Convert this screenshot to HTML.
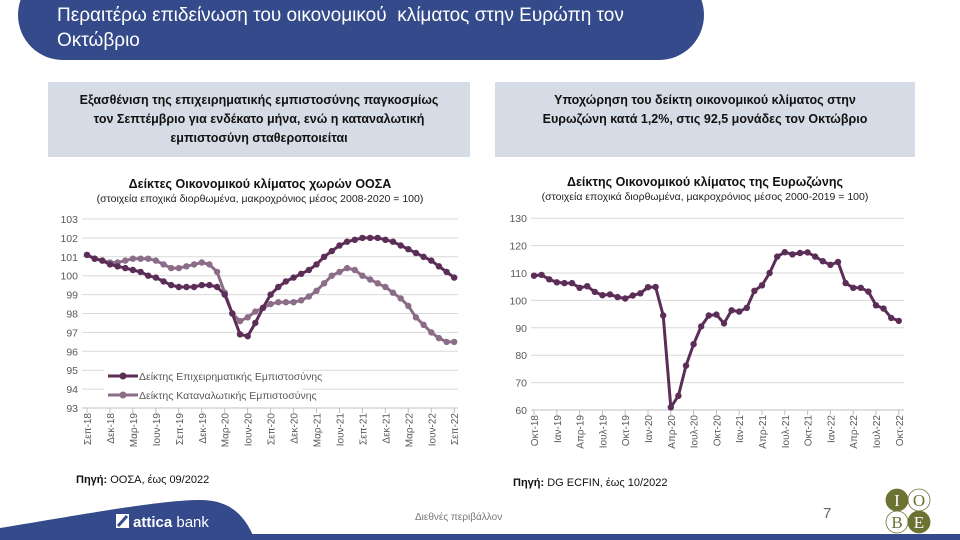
<!DOCTYPE html>
<html><head><meta charset="utf-8"><style>
body{margin:0;width:960px;height:540px;overflow:hidden;background:#fff;font-family:"Liberation Sans","DejaVu Sans",sans-serif;position:relative}
.hdr{position:absolute;left:18px;top:-30px;width:686px;height:90px;background:#344a8a;border-radius:45px;}
.hdrt{position:absolute;left:57px;top:3px;color:#fff;font-size:19px;line-height:25px;width:640px}
.box{position:absolute;top:82px;height:75px;background:#d6dce5;font-weight:bold;font-size:12.5px;text-align:center;line-height:19px;color:#111;box-sizing:border-box;padding-top:9px}
.ct{position:absolute;font-weight:bold;font-size:12.5px;color:#111;text-align:center}
.cs{position:absolute;font-size:10.5px;color:#222;text-align:center}
.src{position:absolute;font-size:11px;color:#111}
</style></head><body>
<div class="hdr"></div>
<div class="hdrt">Περαιτέρω επιδείνωση του οικονομικού&nbsp; κλίματος στην Ευρώπη τον Οκτώβριο</div>
<div class="box" style="left:48px;width:422px">Εξασθένιση της επιχειρηματικής εμπιστοσύνης παγκοσμίως<br>τον Σεπτέμβριο για ενδέκατο μήνα, ενώ η καταναλωτική<br>εμπιστοσύνη σταθεροποιείται</div>
<div class="box" style="left:495px;width:420px">Υποχώρηση του δείκτη οικονομικού κλίματος στην<br>Ευρωζώνη κατά 1,2%, στις 92,5 μονάδες τον Οκτώβριο</div>
<div class="ct" style="left:60px;width:400px;top:177px">Δείκτες Οικονομικού κλίματος χωρών ΟΟΣΑ</div>
<div class="cs" style="left:40px;width:440px;top:193px">(στοιχεία εποχικά διορθωμένα, μακροχρόνιος μέσος 2008-2020 = 100)</div>
<div class="ct" style="left:505px;width:400px;top:175px">Δείκτης Οικονομικού κλίματος της Ευρωζώνης</div>
<div class="cs" style="left:485px;width:440px;top:191px">(στοιχεία εποχικά διορθωμένα, μακροχρόνιος μέσος 2000-2019 = 100)</div>
<svg id="s" width="960" height="540" style="position:absolute;left:0;top:0" font-family="Liberation Sans, DejaVu Sans, sans-serif"></svg>
<div class="src" style="left:76px;top:474px"><b>Πηγή:</b> ΟΟΣΑ, έως 09/2022</div>
<div class="src" style="left:513px;top:477px"><b>Πηγή:</b> DG ECFIN, έως 10/2022</div>
<div style="position:absolute;left:415px;top:512px;font-size:10px;color:#777">Διεθνές περιβάλλον</div>
<div style="position:absolute;left:823px;top:505px;font-size:15px;color:#666">7</div>
<script>
var s=document.getElementById('s'),h='';
// footer
h+='<rect x="0" y="534" width="960" height="6" fill="#344a8a"/>';
h+='<path d="M0,528 C80,515 160,500 200,500 C230,500 245,515 255,540 L0,540Z" fill="#344a8a"/>';
h+='<rect x="116" y="514" width="13" height="14" fill="#fff"/><path d="M118,526 L127,516" stroke="#344a8a" stroke-width="3"/>';
h+='<text x="133" y="527" fill="#fff" font-size="15"><tspan font-weight="bold">attica</tspan> bank</text>';
[[897,500,'I',1],[919,500,'O',0],[897,522,'B',0],[919,522,'E',1]].forEach(function(c){h+='<circle cx="'+c[0]+'" cy="'+c[1]+'" r="11" fill="'+(c[3]?'#6b7232':'#fff')+'" stroke="#6b7232" stroke-width="0.8"/><text x="'+c[0]+'" y="'+(c[1]+6)+'" font-family="Liberation Serif,serif" font-size="17" text-anchor="middle" fill="'+(c[3]?'#fff':'#6b7232')+'">'+c[2]+'</text>';});
function chart(o){
 var i,y;
 for(i=0;i<=o.n;i++){var v=o.min+i*o.step;y=o.y0-(v-o.min)*o.k;
  h+='<line x1="'+o.gx0+'" x2="'+o.gx1+'" y1="'+y+'" y2="'+y+'" stroke="'+(i==0?'#bfbfbf':'#d9d9d9')+'" stroke-width="1"/>';
  h+='<text x="'+(o.gx0-4)+'" y="'+(y+4)+'" font-size="10.5" fill="#595959" text-anchor="end">'+v+'</text>';}
 o.labels.forEach(function(l,j){var x=o.x0+j*3*o.dx;
  h+='<line x1="'+x+'" x2="'+x+'" y1="'+o.y0+'" y2="'+(o.y0+5)+'" stroke="#bfbfbf"/>';
  h+='<text transform="translate('+(x+4)+','+(o.y0+5)+') rotate(-90)" font-size="10" fill="#595959" text-anchor="end">'+l+'</text>';});
 o.series.forEach(function(sr){var p=sr.d.map(function(v,j){return (o.x0+j*o.dx).toFixed(1)+','+(o.y0-(v-o.min)*o.k).toFixed(1)});
  h+='<polyline points="'+p.join(' ')+'" fill="none" stroke="'+sr.c+'" stroke-width="3" stroke-linejoin="round"/>';
  p.forEach(function(q){var a=q.split(',');h+='<circle cx="'+a[0]+'" cy="'+a[1]+'" r="3.2" fill="'+sr.c+'"/>';});});
}
var b=[101.1,100.9,100.8,100.6,100.5,100.4,100.3,100.2,100.0,99.9,99.7,99.5,99.4,99.4,99.4,99.5,99.5,99.4,99.0,98.0,96.9,96.8,97.5,98.3,99.0,99.4,99.7,99.9,100.1,100.3,100.6,101.0,101.3,101.6,101.8,101.9,102.0,102.0,102.0,101.9,101.8,101.6,101.4,101.2,101.0,100.8,100.5,100.2,99.9];
var c=[101.1,100.9,100.8,100.7,100.7,100.8,100.9,100.9,100.9,100.8,100.6,100.4,100.4,100.5,100.6,100.7,100.6,100.2,99.1,98.0,97.6,97.8,98.1,98.3,98.5,98.6,98.6,98.6,98.7,98.9,99.2,99.6,100.0,100.2,100.4,100.3,100.0,99.8,99.6,99.4,99.1,98.8,98.4,97.8,97.4,97.0,96.7,96.5,96.5];
chart({min:93,step:1,n:10,y0:408,k:18.9,gx0:82,gx1:458,x0:87,dx:7.65,
 labels:['Σεπ-18','Δεκ-18','Μαρ-19','Ιουν-19','Σεπ-19','Δεκ-19','Μαρ-20','Ιουν-20','Σεπ-20','Δεκ-20','Μαρ-21','Ιουν-21','Σεπ-21','Δεκ-21','Μαρ-22','Ιουν-22','Σεπ-22'],
 series:[{d:c,c:'#8c6d87'},{d:b,c:'#5b2d57'}]});
var e=[109,109.3,107.7,106.6,106.3,106.3,104.6,105.2,103.1,101.9,102.2,101.2,100.7,101.8,102.6,104.8,104.9,94.5,61,65.2,76.2,84,90.5,94.5,94.8,91.6,96.4,95.9,97.3,103.5,105.5,110,116,117.6,116.8,117.3,117.5,116,114.3,113,114,106.3,104.6,104.6,103.2,98.2,97,93.6,92.5];
chart({min:60,step:10,n:7,y0:410,k:2.74,gx0:531,gx1:904,x0:534,dx:7.6,
 labels:['Οκτ-18','Ιαν-19','Απρ-19','Ιουλ-19','Οκτ-19','Ιαν-20','Απρ-20','Ιουλ-20','Οκτ-20','Ιαν-21','Απρ-21','Ιουλ-21','Οκτ-21','Ιαν-22','Απρ-22','Ιουλ-22','Οκτ-22'],
 series:[{d:e,c:'#5b2d57'}]});
// legend
h+='<rect x="104" y="367" width="198" height="36" fill="#fff"/>';
h+='<line x1="108" x2="138" y1="376" y2="376" stroke="#5b2d57" stroke-width="3"/><circle cx="123" cy="376" r="3.5" fill="#5b2d57"/>';
h+='<text x="139" y="380" font-size="10.5" fill="#595959">Δείκτης Επιχειρηματικής Εμπιστοσύνης</text>';
h+='<line x1="108" x2="138" y1="395" y2="395" stroke="#8c6d87" stroke-width="3"/><circle cx="123" cy="395" r="3.5" fill="#8c6d87"/>';
h+='<text x="139" y="399" font-size="10.5" fill="#595959">Δείκτης Καταναλωτικής Εμπιστοσύνης</text>';
s.innerHTML=h;
</script>
</body></html>
